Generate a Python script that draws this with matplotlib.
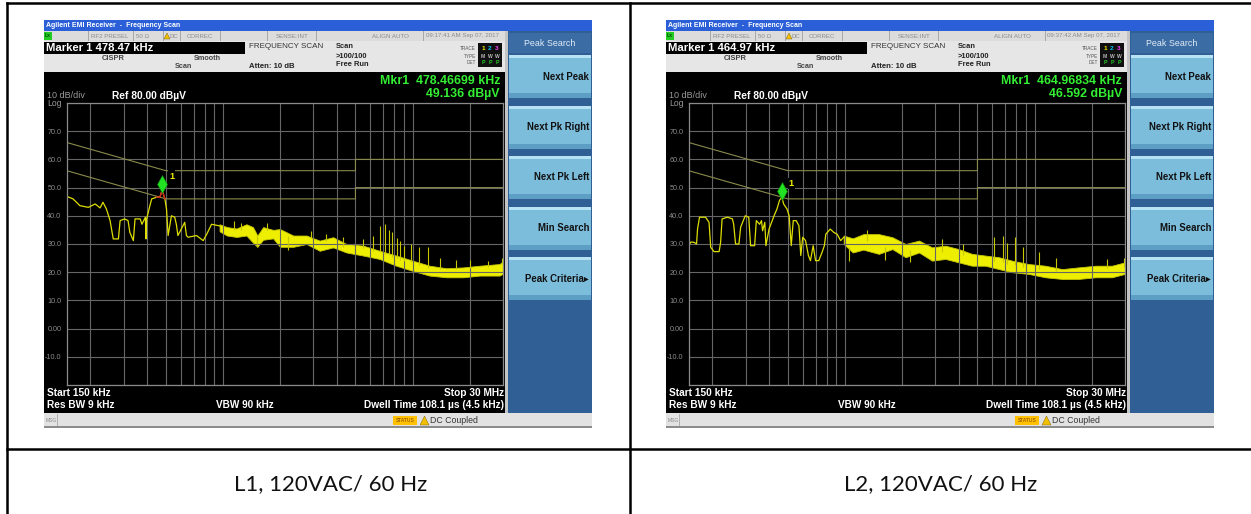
import matplotlib
matplotlib.use("Agg")
import matplotlib.pyplot as plt
from matplotlib.patches import Rectangle, Polygon
from matplotlib.ticker import NullLocator
from matplotlib.transforms import offset_copy

plt.rcParams['font.family'] = ['Liberation Sans', 'DejaVu Sans']

# ---- data (frequencies in MHz, levels in dBuV) ----
captions = ["L1, 120VAC/ 60 Hz", "L2, 120VAC/ 60 Hz"]
clocks = ["09:17:41 AM Sep 07, 2017", "09:37:42 AM Sep 07, 2017"]
marker_f = [0.47847, 0.46497]
marker_db = [49.136, 46.592]
marker_head = ["Marker 1 478.47 kHz", "Marker 1 464.97 kHz"]
marker_f_txt = ["Mkr1  478.46699 kHz", "Mkr1  464.96834 kHz"]
marker_db_txt = ["49.136 dBµV", "46.592 dBµV"]

qp_f = [0.15, 0.5, 5, 5, 30]
qp_db = [66, 56, 56, 60, 60]
avg_f = [0.15, 0.5, 5, 5, 30]
avg_db = [56, 46, 46, 50, 50]

trace1_f = [0.150, 0.162, 0.176, 0.195, 0.212, 0.225, 0.233, 0.243, 0.254, 0.264,
            0.281, 0.287, 0.303, 0.316, 0.323, 0.337, 0.344, 0.366, 0.374, 0.390,
            0.393, 0.396, 0.412, 0.421, 0.448, 0.465, 0.478, 0.494, 0.504, 0.514,
            0.535, 0.557, 0.568, 0.579, 0.603, 0.629, 0.642, 0.655, 0.726, 0.787,
            0.822, 0.871, 0.963]
trace1_db = [46.9, 46.0, 43.6, 43.0, 44.2, 42.8, 44.8, 42.4, 38.3, 31.8,
             31.8, 38.3, 38.9, 38.3, 34.1, 31.2, 38.9, 38.9, 37.0, 39.5,
             31.8, 38.9, 43.6, 46.0, 46.6, 46.6, 49.1, 46.0, 42.4, 33.0,
             40.0, 39.5, 37.0, 33.0, 35.3, 37.7, 33.0, 32.4, 33.0, 31.2,
             33.5, 37.0, 36.4]
band1_f = [0.96, 1.05, 1.18, 1.33, 1.44, 1.52, 1.63, 1.84, 2.0, 2.35, 2.76, 3.24,
           3.81, 4.48, 5.5, 6.7, 8.2, 10.0, 12.3, 15.1, 18.5, 22.6, 28.8, 30]
band1_lo = [34.5, 33.0, 32.5, 33.0, 30.5, 29.0, 31.5, 32.0, 29.0, 29.0, 30.0, 27.6,
            28.8, 27.0, 25.9, 24.7, 22.3, 20.5, 18.8, 18.2, 18.2, 18.8, 18.8, 19.5]
band1_hi = [37.0, 36.0, 35.5, 37.0, 36.0, 33.0, 36.0, 35.0, 35.3, 33.0, 33.0, 31.2,
            32.4, 30.0, 29.4, 27.6, 25.9, 24.1, 22.3, 21.4, 21.7, 22.3, 22.9, 24.0]
spike1_f = [1.15, 1.25, 1.52, 1.7, 2.2, 2.9, 3.5, 4.3, 5.5, 6.2, 6.7, 7.2, 7.5, 7.8,
            8.3, 8.6, 9.0, 9.8, 10.8, 12.1, 14.0, 17.0, 20.0, 25.0, 29.5]
spike1_lo = [35.0, 35.0, 29.0, 35.0, 28.0, 32.0, 31.0, 29.0, 28.5, 27.5, 27.0, 26.5,
             26.0, 25.5, 25.0, 24.5, 24.0, 23.5, 22.5, 21.5, 21.0, 21.0, 21.5, 22.0, 23.0]
spike1_hi = [38.0, 37.5, 33.0, 37.5, 33.0, 34.5, 33.5, 32.5, 31.8, 33.0, 36.5, 37.1,
             35.0, 34.2, 32.0, 31.0, 29.4, 30.0, 28.8, 28.8, 25.0, 24.5, 24.5, 24.0, 25.0]

trace2_f = [0.150, 0.154, 0.160, 0.165, 0.167, 0.171, 0.184, 0.192, 0.196, 0.204,
            0.217, 0.221, 0.225, 0.240, 0.255, 0.259, 0.265, 0.276, 0.282, 0.298,
            0.311, 0.318, 0.334, 0.341, 0.355, 0.363, 0.368, 0.378, 0.383, 0.398,
            0.423, 0.438, 0.452, 0.465, 0.475, 0.495, 0.508, 0.521, 0.534, 0.553,
            0.572, 0.585, 0.599, 0.620, 0.642, 0.658, 0.680, 0.700, 0.728, 0.757,
            0.779, 0.793, 0.837, 0.874, 0.910, 0.949, 0.987]
trace2_db = [29.4, 30.7, 30.6, 30.0, 35.3, 39.5, 39.5, 37.7, 28.8, 27.3,
             27.3, 30.6, 38.9, 39.5, 38.9, 37.0, 30.0, 30.0, 36.0, 40.0,
             39.5, 29.4, 29.4, 38.3, 37.0, 38.3, 34.7, 37.7, 29.4, 35.3,
             40.0, 42.4, 45.5, 46.6, 44.2, 42.4, 40.0, 29.4, 38.3, 38.3,
             36.5, 25.9, 32.4, 31.2, 25.9, 24.1, 29.4, 24.1, 24.1, 27.0,
             29.4, 33.5, 35.3, 34.1, 33.5, 31.2, 32.4]
band2_f = [0.985, 1.1, 1.25, 1.51, 1.78, 2.09, 2.46, 2.88, 3.39, 3.98, 4.68,
           5.5, 6.5, 7.6, 9.3, 11.4, 14.0, 17.0, 21.0, 25.6, 30]
band2_lo = [30.0, 27.0, 28.0, 26.5, 28.2, 25.3, 27.0, 24.1, 24.7, 23.5, 22.3,
            22.3, 21.1, 20.0, 19.4, 18.2, 17.6, 17.6, 18.2, 18.2, 19.4]
band2_hi = [33.0, 32.0, 33.5, 33.5, 32.4, 30.0, 31.2, 28.8, 29.4, 28.2, 26.5,
            25.9, 25.3, 24.1, 22.9, 22.3, 21.1, 21.7, 22.3, 22.3, 23.5]
spike2_f = [1.05, 1.3, 1.62, 2.2, 3.27, 4.2, 6.1, 6.8, 7.2, 7.9, 8.7, 10.5, 13.0, 24.0, 29.5]
spike2_lo = [24.0, 31.0, 24.5, 23.5, 27.0, 26.0, 24.0, 23.5, 23.0, 22.5, 22.0, 21.0,
             20.5, 21.5, 22.0]
spike2_hi = [29.0, 35.0, 29.0, 28.0, 31.8, 30.0, 32.4, 33.0, 30.5, 32.4, 28.8, 27.0,
             25.0, 24.7, 25.0]

softkeys = ["Next Peak", "Next Pk Right", "Next Pk Left", "Min Search", "Peak Criteria▸"]
y_levels = list(range(-20, 81, 10))

W, H = 1251, 514
fig = plt.figure(figsize=(W / 100, H / 100), dpi=100)
bg = fig.add_axes([0, 0, 1, 1])
bg.set_xlim(0, W)
bg.set_ylim(H, 0)
bg.axis('off')


def box(x, y, w, h, fc, z=1):
    bg.add_patch(Rectangle((x, y), w, h, facecolor=fc, edgecolor='none', zorder=z))


def label(x, y, s, size, color, weight='normal', ha='left'):
    bg.text(x, y, s, fontsize=size, color=color, fontweight=weight,
            ha=ha, va='center', zorder=5)


def ylab(v):
    if v in (-20, 80):
        return ''
    return '0.00' if v == 0 else '%.1f' % v


def draw_screen(i, x0, tr_f, tr_db, bd_f, bd_lo, bd_hi, sp_f, sp_lo, sp_hi, red=None):
    # title bar
    box(x0, 19.5, 548, 11.5, '#2a5fd8')
    label(x0 + 2, 25.3, 'Agilent EMI Receiver  -  Frequency Scan', 5.0, 'white', 'bold')
    # settings area
    box(x0, 31, 461, 41, '#e6e6e6')
    box(x0, 31, 461, 10, '#dcdcdc')
    box(x0, 31.5, 8, 8, '#22cc22', z=2)
    label(x0 + 1, 35.5, 'Lx', 3.6, '#004400', 'bold')
    for sx in [44, 89, 119, 136, 176, 223, 272, 379]:
        box(x0 + sx, 31, 0.8, 10, '#a8a8a8', z=2)
    for sx, s in [(66, 'RF2 PRESEL'), (99, '50 Ω'), (130, 'DC'), (156, 'CORREC'),
                  (248, 'SENSE:INT'), (346, 'ALIGN AUTO'), (418, clocks[i])]:
        label(x0 + sx, 36, s, 4.4, '#8a8a8a', ha='center')
    bg.add_patch(Polygon([[x0 + 120, 39], [x0 + 123, 33], [x0 + 126, 39]],
                         closed=True, fc='#f0c000', ec='#7a5a00', lw=0.3, zorder=3))
    box(x0, 41.5, 201, 12.5, 'black', z=2)
    label(x0 + 2, 47.8, marker_head[i], 8.1, 'white', 'bold')
    label(x0 + 69.5, 58.5, 'CISPR', 5.4, '#444444', 'bold', ha='center')
    label(x0 + 150, 58.5, 'Smooth', 5.2, '#444444', 'bold')
    label(x0 + 131, 66.5, 'Scan', 5.2, '#444444', 'bold')
    label(x0 + 205, 47, 'FREQUENCY SCAN', 5.8, '#333333')
    label(x0 + 205, 66, 'Atten: 10 dB', 5.6, '#222222', 'bold')
    label(x0 + 292, 47, 'Scan', 5.4, '#222222', 'bold')
    label(x0 + 292, 56, '>100/100', 5.4, '#222222', 'bold')
    label(x0 + 292, 65, 'Free Run', 5.4, '#222222', 'bold')
    for yy, s in [(49, 'TRACE'), (56, 'TYPE'), (62.5, 'DET')]:
        label(x0 + 432, yy, s, 3.4, '#555555', ha='right')
    box(x0 + 434, 43, 24, 24, '#101010', z=2)
    for k, (c, t2) in enumerate([('#f0f000', 'M'), ('#00c8ff', 'W'), ('#ff40ff', 'W')]):
        label(x0 + 439 + 7 * k, 49, str(k + 1), 4.6, c, 'bold', ha='center')
        label(x0 + 439 + 7 * k, 56, t2, 3.6, '#bbbbbb', 'bold', ha='center')
        label(x0 + 439 + 7 * k, 62.5, 'P', 3.8, '#22cc22', 'bold', ha='center')
    # screen
    box(x0, 72, 461, 341, 'black')
    box(x0 + 461, 31, 3, 382, '#c4c4c4')
    label(x0 + 456, 81, marker_f_txt[i], 8.9, '#33ee33', 'bold', ha='right')
    label(x0 + 456, 94, marker_db_txt[i], 8.9, '#33ee33', 'bold', ha='right')
    label(x0 + 3, 96, '10 dB/div', 6.5, '#9a9a9a')
    label(x0 + 68, 96, 'Ref 80.00 dBµV', 7.4, 'white', 'bold')
    label(x0 + 3, 103.5, 'Log', 6.2, '#9a9a9a')
    label(x0 + 3, 392.5, 'Start 150 kHz', 7.3, 'white', 'bold')
    label(x0 + 3, 405.5, 'Res BW 9 kHz', 7.3, 'white', 'bold')
    label(x0 + 172, 405.5, 'VBW 90 kHz', 7.2, 'white', 'bold')
    label(x0 + 460, 392.5, 'Stop 30 MHz', 7.3, 'white', 'bold', ha='right')
    label(x0 + 460, 405.5, 'Dwell Time 108.1 µs (4.5 kHz)', 7.3, 'white', 'bold', ha='right')
    # softkeys
    box(x0 + 464, 31, 84, 382, '#2f5f95')
    box(x0 + 465, 33, 82, 20, '#3b6ca3', z=2)
    label(x0 + 506, 43, 'Peak Search', 6.4, '#e4eef8', ha='center')
    for k, s in enumerate(softkeys):
        yt = 55 + 50.5 * k
        box(x0 + 465, yt, 82, 43, '#7cbddc', z=2)
        box(x0 + 465, yt, 82, 3, '#b6e2f4', z=3)
        box(x0 + 465, yt + 38, 82, 5, '#5c9ec4', z=3)
        label(x0 + 545, yt + 21.5, s, 6.9, '#111111', 'bold', ha='right')
    # message bar
    box(x0, 413, 548, 14, '#e2e2e2')
    box(x0, 426, 548, 1.5, '#8c8c8c', z=2)
    label(x0 + 2, 420, 'MSG', 3.6, '#888888')
    box(x0 + 13, 414, 0.8, 12, '#b0b0b0', z=2)
    box(x0 + 349, 415.5, 24, 9.5, '#ffc000', z=2)
    label(x0 + 361, 420.3, 'STATUS', 3.6, '#7a3c00', ha='center')
    bg.add_patch(Polygon([[x0 + 376, 425], [x0 + 380.5, 416], [x0 + 385, 425]],
                         closed=True, fc='#f0c000', ec='#7a5a00', lw=0.3, zorder=3))
    label(x0 + 386, 420.5, 'DC Coupled', 6.3, '#333333')

    # graph
    gx = x0 + 22.7
    ax = fig.add_axes([gx / W, 1 - 385 / H, 436.3 / W, 282 / H])
    ax.set_facecolor('black')
    ax.set_xscale('log')
    ax.set_xlim(0.15, 30)
    ax.set_ylim(-20, 80)
    xt = [k * 10.0 ** e for e in (-1, 0, 1) for k in range(1, 10) if 0.15 < k * 10.0 ** e < 30]
    ax.set_xticks(xt)
    ax.set_xticklabels([])
    ax.xaxis.set_minor_locator(NullLocator())
    ax.set_yticks(y_levels)
    ax.set_yticklabels([ylab(v) for v in y_levels])
    ax.tick_params(length=0, pad=3.8, labelsize=5.2, labelcolor='#8c8c8c')
    ax.grid(True, color='#666666', lw=0.8)
    for sp in ax.spines.values():
        sp.set_color('#8a8a8a')
        sp.set_linewidth(0.9)

    ax.plot(qp_f, qp_db, color='#8a8a4c', lw=0.8)
    ax.plot(avg_f, avg_db, color='#8a8a4c', lw=0.8)
    ax.plot(tr_f, tr_db, color='#dede00', lw=0.9)
    ax.fill_between(bd_f, bd_lo, bd_hi, color='#eeee00', lw=0.6, edgecolor='#c8c800')
    ax.vlines(sp_f, sp_lo, sp_hi, color='#c8c800', lw=0.8)
    if red:
        rf = [f for f in tr_f if red[0] <= f <= red[1]]
        rd = [d for f, d in zip(tr_f, tr_db) if red[0] <= f <= red[1]]
        ax.plot(rf, rd, color='#d02020', lw=1.0)
    up = offset_copy(ax.transData, fig=fig, x=0, y=6, units='dots')
    ax.plot([marker_f[i]], [marker_db[i]], marker='d', ms=9, color='#22e022',
            mec='#0c800c', mew=0.4, transform=up, clip_on=False)
    ax.annotate('1', (marker_f[i], marker_db[i]), xytext=(7, 14), textcoords='offset pixels',
                color='#f0f000', fontsize=6.5, fontweight='bold', va='center',
                bbox=dict(fc='black', ec='none', pad=0.8))


draw_screen(0, 44, trace1_f, trace1_db, band1_f, band1_lo, band1_hi,
            spike1_f, spike1_lo, spike1_hi, red=(0.44, 0.50))
draw_screen(1, 666, trace2_f, trace2_db, band2_f, band2_lo, band2_hi,
            spike2_f, spike2_lo, spike2_hi)

# table frame
lw = 1.8
bg.plot([7, W], [3, 3], color='black', lw=lw)
bg.plot([7, 7], [3, H], color='black', lw=lw)
bg.plot([630, 630], [3, H], color='black', lw=lw)
bg.plot([7, W], [449, 449], color='black', lw=lw)
bg.text(331, 484, captions[0], ha='center', va='center', fontsize=16,
        family=['Lato', 'DejaVu Sans'], color='#111111')
bg.text(941, 484, captions[1], ha='center', va='center', fontsize=16,
        family=['Lato', 'DejaVu Sans'], color='#111111')

fig.savefig('out.png', dpi=100)
